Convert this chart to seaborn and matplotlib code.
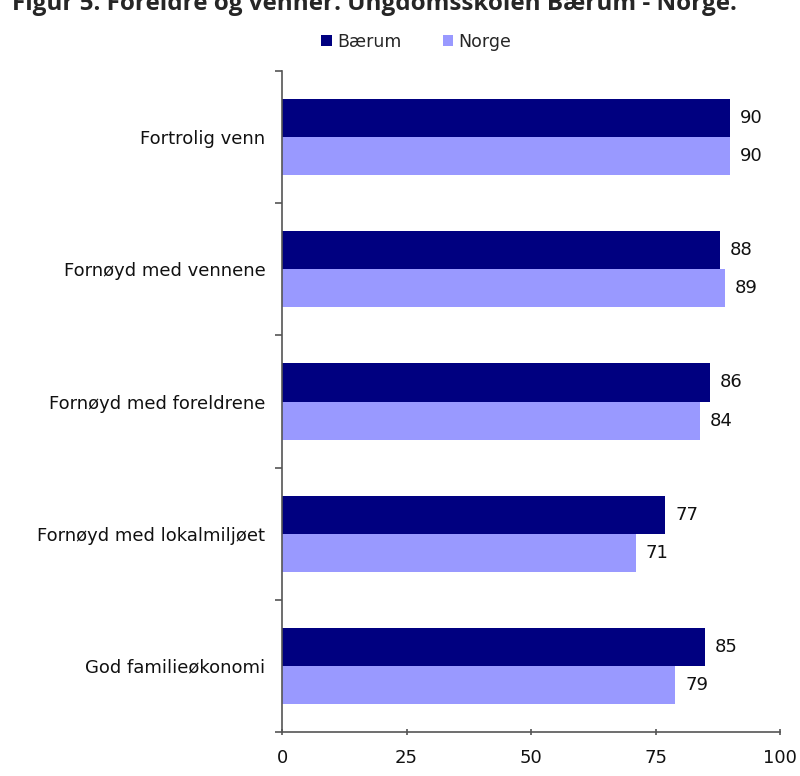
import matplotlib
matplotlib.use("Agg")
import matplotlib.pyplot as plt
import seaborn as sns
import pandas as pd
from matplotlib.ticker import FixedLocator

# Data
categories = ["Fortrolig venn", "Fornøyd med vennene", "Fornøyd med foreldrene",
              "Fornøyd med lokalmiljøet", "God familieøkonomi"]
baerum = [90, 88, 86, 77, 85]
norge = [90, 89, 84, 71, 79]
series = ["Bærum", "Norge"]
colors = ["#000080", "#9999FF"]
x_ticks = [0, 25, 50, 75, 100]

df = pd.DataFrame({
    "kategori": categories * 2,
    "verdi": baerum + norge,
    "serie": [series[0]] * len(categories) + [series[1]] * len(categories),
})

sns.set_style("white")
plt.rcParams["font.family"] = ["DejaVu Sans"]

fig = plt.figure(figsize=(8, 7.76), dpi=100)
ax = fig.add_axes([282 / 800, 1 - 732 / 776, (780 - 282) / 800, (732 - 71) / 776])

sns.barplot(data=df, y="kategori", x="verdi", hue="serie", orient="h",
            palette=colors, saturation=1, width=0.575, gap=0, linewidth=0, ax=ax,
            legend=True)

for cont in ax.containers:
    ax.bar_label(cont, fmt="%d", padding=7, fontsize=13, color="#111111")

ax.set_xlim(0, 100)
ax.set_ylim(len(categories) - 0.5, -0.5)
ax.set_xticks(x_ticks)
ax.set_xlabel("")
ax.set_ylabel("")

# tick marks at category boundaries on the y axis
ax.yaxis.set_minor_locator(FixedLocator([i - 0.5 for i in range(len(categories) + 1)]))
ax.tick_params(axis="y", which="major", length=0, pad=12, labelsize=13, labelcolor="#111111")
ax.tick_params(axis="y", which="minor", length=5, width=1.2, color="#555555", direction="out", left=True)
ax.tick_params(axis="x", which="major", length=5, width=1.2, color="#555555", direction="inout",
               bottom=True, pad=10, labelsize=13, labelcolor="#111111")

sns.despine(ax=ax)
for s in ["left", "bottom"]:
    ax.spines[s].set_color("#555555")
    ax.spines[s].set_linewidth(1.2)

leg = ax.legend(loc="center", bbox_to_anchor=(0.27, 1.0 + 29 / 661), ncol=2, frameon=False,
                fontsize=12.5, handlelength=0.6, handleheight=0.6, handletextpad=0.3,
                columnspacing=2.4)

fig.text(12 / 800, 1 - 10 / 776, "Figur 5. Foreldre og venner. Ungdomsskolen Bærum - Norge.",
         fontsize=17.5, fontweight="bold", family="Open Sans", va="baseline", ha="left")

fig.savefig("out.png", dpi=100)
